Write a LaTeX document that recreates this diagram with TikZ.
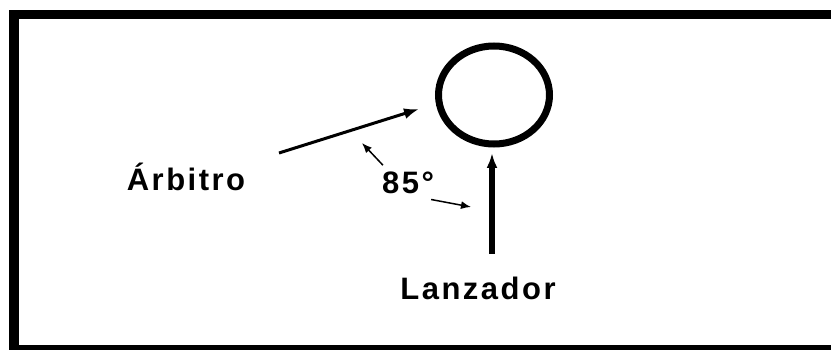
\documentclass[tikz,border=0pt]{standalone}
\usepackage{fontspec}
\setmainfont{Liberation Sans}
\newfontfamily\tagfont{Liberation Sans Bold}[LetterSpace=8]
\usetikzlibrary{arrows.meta,shapes.geometric}

\tikzset{
  tag/.style={font=\tagfont\fontsize{31}{33}\selectfont,inner sep=0pt,anchor=base},
  ring/.style={draw,ellipse,line width=7pt,minimum width=111pt,minimum height=98pt},
}

\begin{document}
\begin{tikzpicture}[x=1pt,y=-1pt,
  bigarrow/.style={-{Latex[length=15pt,width=11pt]}},
  thinarrow/.style={-{Latex[length=10pt,width=8pt]},line width=1.5pt}]
\useasboundingbox (0,0) rectangle (831,350);
\clip (0,0) rectangle (831,350);
%frame, open on the right and bottom
\draw[line width=9.5pt] (13.75,14.5) rectangle (860,349.75);
\node[ring] (aro) at (494,95) {};
\node[tag] (arbitro) at (186,191) {Árbitro};
\node[tag] (lanzador) at (478,299) {Lanzador};
\node[tag] (ang) at (408,194) {85°};
\coordinate (a0) at (279,153); \coordinate (a1) at (419,109);
\coordinate (l0) at (492,254); \coordinate (l1) at (492,153);
\coordinate (t1) at (362,143); \coordinate (t2) at (471,207);
\draw[bigarrow,line width=3pt] (a0) -- (a1);
\draw[bigarrow,line width=6pt] (l0) -- (l1);
\draw[thinarrow] ([shift={(1,-7)}]ang.north west) -- (t1);
\draw[thinarrow] ([shift={(-3,5)}]ang.south east) -- (t2);
\end{tikzpicture}
\end{document}
